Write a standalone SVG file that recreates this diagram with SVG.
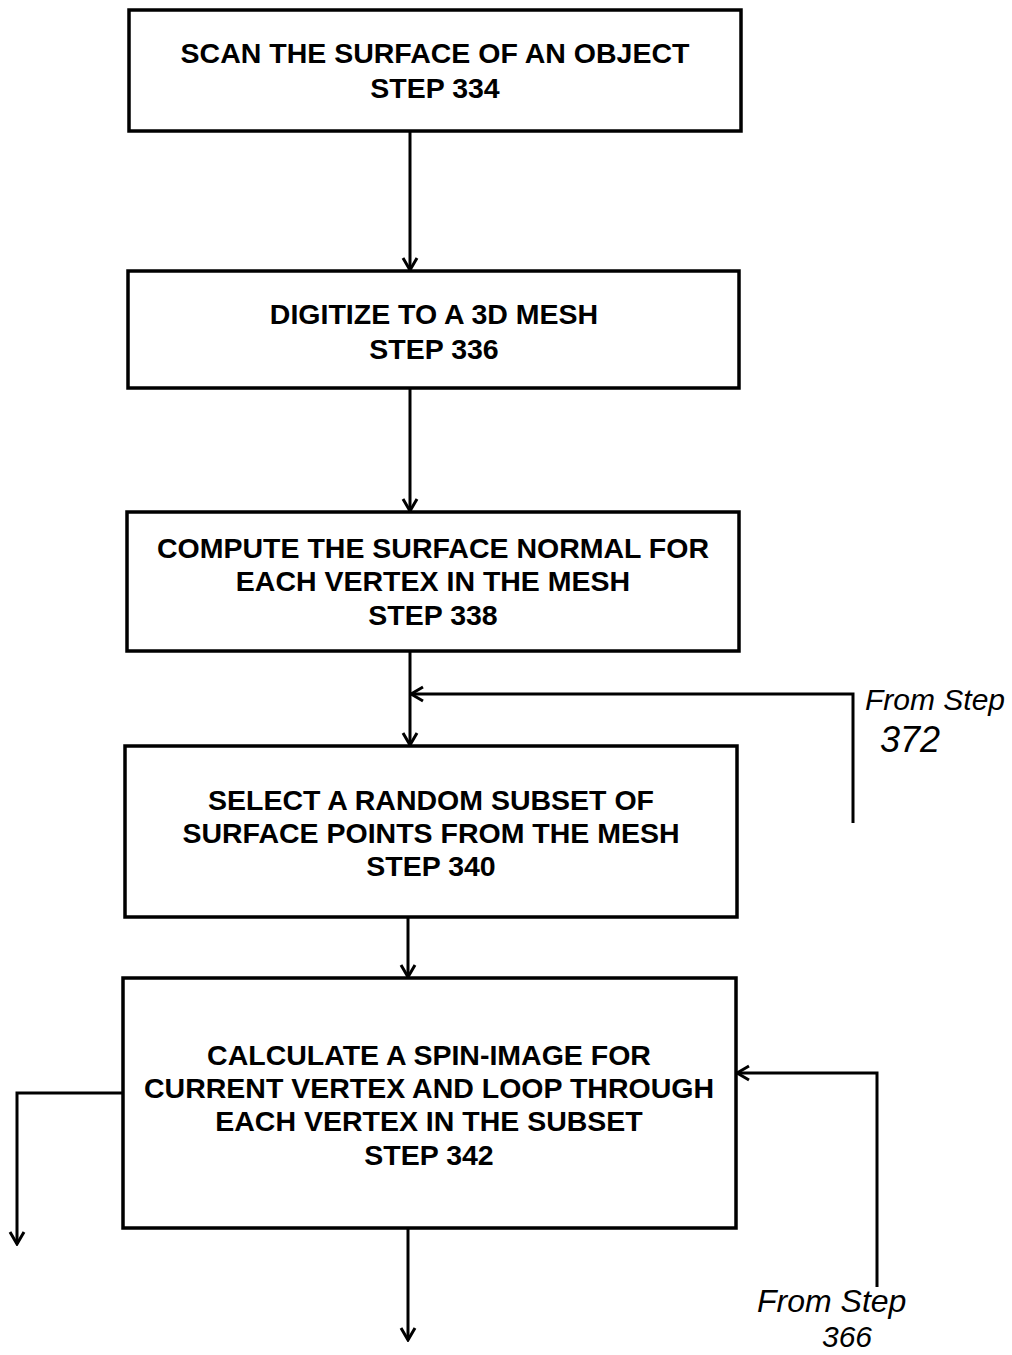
<svg xmlns="http://www.w3.org/2000/svg" width="1012" height="1355" viewBox="0 0 1012 1355">
<defs>
<marker id="ah" viewBox="0 0 20 20" refX="18" refY="10" markerWidth="20" markerHeight="20" markerUnits="userSpaceOnUse" orient="auto">
<path d="M6,3 L18,10 L6,17" fill="none" stroke="#000" stroke-width="3"/>
</marker>
<style>
.box{fill:#fff;stroke:#000;stroke-width:3.5}
.t{font-family:"Liberation Sans",Arial,sans-serif;font-weight:bold;font-size:28.5px;text-anchor:middle;fill:#000}
.c{fill:none;stroke:#000;stroke-width:3}
.h{font-family:"Liberation Sans",Arial,sans-serif;font-style:italic;fill:#000}
</style>
</defs>
<rect width="1012" height="1355" fill="#fff"/>
<g id="connectors">
<path class="c" d="M410,131 V270" marker-end="url(#ah)"/>
<path class="c" d="M410,388 V511" marker-end="url(#ah)"/>
<path class="c" d="M410,651 V745" marker-end="url(#ah)"/>
<path class="c" d="M853,823 V694 H411" marker-end="url(#ah)"/>
<path class="c" d="M408,917 V977" marker-end="url(#ah)"/>
<path class="c" d="M123,1093 H17 V1244" marker-end="url(#ah)"/>
<path class="c" d="M877,1287 V1073 H737" marker-end="url(#ah)"/>
<path class="c" d="M408,1228 V1340" marker-end="url(#ah)"/>
</g>
<g id="n334">
<rect class="box" x="129" y="10" width="612" height="121"/>
<text class="t" x="435" y="63">SCAN THE SURFACE OF AN OBJECT</text>
<text class="t" x="435" y="98">STEP 334</text>
</g>
<g id="n336">
<rect class="box" x="128" y="271" width="611" height="117"/>
<text class="t" x="434" y="324">DIGITIZE TO A 3D MESH</text>
<text class="t" x="434" y="359">STEP 336</text>
</g>
<g id="n338">
<rect class="box" x="127" y="512" width="612" height="139"/>
<text class="t" x="433" y="558">COMPUTE THE SURFACE NORMAL FOR</text>
<text class="t" x="433" y="591">EACH VERTEX IN THE MESH</text>
<text class="t" x="433" y="625">STEP 338</text>
</g>
<g id="n340">
<rect class="box" x="125" y="746" width="612" height="171"/>
<text class="t" x="431" y="810">SELECT A RANDOM SUBSET OF</text>
<text class="t" x="431" y="843">SURFACE POINTS FROM THE MESH</text>
<text class="t" x="431" y="876">STEP 340</text>
</g>
<g id="n342">
<rect class="box" x="123" y="978" width="613" height="250"/>
<text class="t" x="429" y="1065">CALCULATE A SPIN-IMAGE FOR</text>
<text class="t" x="429" y="1098">CURRENT VERTEX AND LOOP THROUGH</text>
<text class="t" x="429" y="1131">EACH VERTEX IN THE SUBSET</text>
<text class="t" x="429" y="1165">STEP 342</text>
</g>
<g id="from372">
<text class="h" x="865" y="710" font-size="30">From Step</text>
<text class="h" x="880" y="752" font-size="36">372</text>
</g>
<g id="from366">
<text class="h" x="757" y="1312" font-size="32">From Step</text>
<text class="h" x="822" y="1347" font-size="30">366</text>
</g>
</svg>
